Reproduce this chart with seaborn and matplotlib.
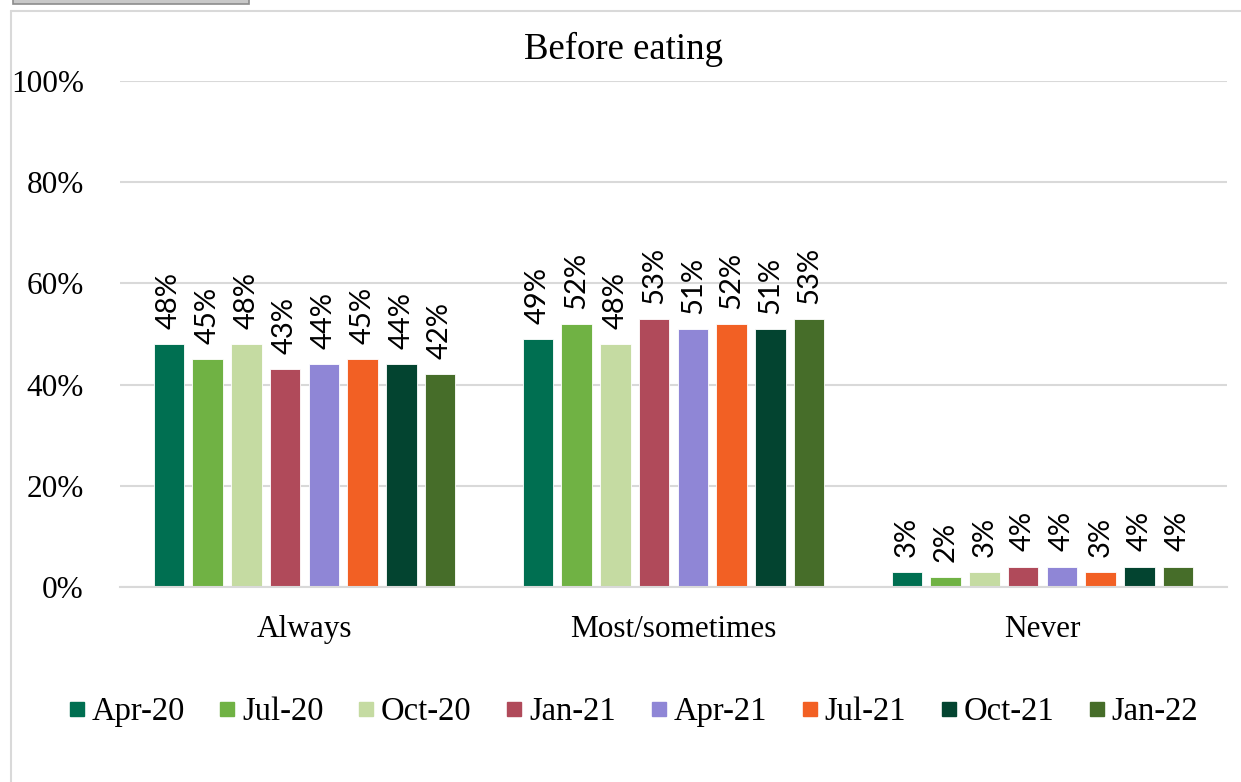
import matplotlib
matplotlib.use("Agg")
import matplotlib.pyplot as plt
import seaborn as sns
import pandas as pd
from matplotlib.lines import Line2D
from matplotlib.patches import Rectangle

categories = ["Always", "Most/sometimes", "Never"]
waves = ["Apr-20", "Jul-20", "Oct-20", "Jan-21", "Apr-21", "Jul-21", "Oct-21", "Jan-22"]
always = [48, 45, 48, 43, 44, 45, 44, 42]
most_sometimes = [49, 52, 48, 53, 51, 52, 51, 53]
never = [3, 2, 3, 4, 4, 3, 4, 4]
colors = ["#006F51", "#70B244", "#C5DBA2", "#B04A5A", "#8F86D6", "#F26024", "#034430", "#466D29"]
yticks = [0, 20, 40, 60, 80, 100]
title = "Before eating"

rows = []
for cat, vals in zip(categories, [always, most_sometimes, never]):
    for w, v in zip(waves, vals):
        rows.append({"category": cat, "wave": w, "value": v})
df = pd.DataFrame(rows)

sns.set_theme(style="white")
serif = ["Liberation Serif", "DejaVu Serif"]
plt.rcParams["font.family"] = serif
plt.rcParams["text.color"] = "black"
plt.rcParams["xtick.color"] = "black"
plt.rcParams["ytick.color"] = "black"

fig = plt.figure(figsize=(12.41, 7.82), dpi=100)
ax = fig.add_axes([120/1241, 1-587/782, (1227-120)/1241, (587-81)/782])

palette = dict(zip(waves, colors))
sns.barplot(data=df, x="category", y="value", hue="wave", order=categories,
            hue_order=waves, palette=palette, width=0.84, gap=0.21,
            saturation=1, ax=ax, legend=False, edgecolor="white", linewidth=0.6)

ax.set_ylim(0, 100)
ax.set_yticks(yticks)
ax.set_yticklabels([f"{t}%" for t in yticks], fontsize=22.5, family=serif, color="black")
ax.tick_params(axis="y", length=0, pad=26)
ax.tick_params(axis="x", length=0, pad=20, labelsize=22.5, labelcolor="black")
for lab in ax.get_xticklabels():
    lab.set_family(serif)
ax.set_xlabel("")
ax.set_ylabel("")
ax.grid(axis="y", color="#d9d9d9", linewidth=1.5)
ax.set_axisbelow(True)
for s in ["top", "right", "left"]:
    ax.spines[s].set_visible(False)
ax.spines["bottom"].set_color("#d9d9d9")
ax.spines["bottom"].set_linewidth(1.5)

for cont in ax.containers:
    for bar in cont:
        h = bar.get_height()
        ax.annotate(f"{h:.0f}%", (bar.get_x() + bar.get_width()/2, h),
                    xytext=(0, 11), textcoords="offset points",
                    rotation=90, ha="center", va="bottom",
                    fontsize=21, family=["Lato", "DejaVu Sans"], color="#000000")

fig.text(623/1241, 1-49/782, title, ha="center", va="center", fontsize=26.5,
         family=serif, color="black")

handles = [Line2D([0], [0], marker="s", linestyle="none", markersize=10,
                  markerfacecolor=c, markeredgecolor=c) for c in colors]
fig.legend(handles, waves, loc="center", bbox_to_anchor=(630/1241, 1-712/782),
           ncol=8, frameon=False, prop={"family": serif, "size": 23.5},
           handletextpad=0.0, columnspacing=0.86, handlelength=0.9)

# outer frame
fig.add_artist(Line2D([11/1241, 11/1241], [0, 1-11/782], transform=fig.transFigure,
                      color="#d9d9d9", linewidth=1.5))
fig.add_artist(Line2D([11/1241, 1], [1-11/782, 1-11/782], transform=fig.transFigure,
                      color="#d9d9d9", linewidth=1.5))
fig.add_artist(Rectangle((13/1241, 1-4/782), (249-13)/1241, 5/782, transform=fig.transFigure,
                         facecolor="#c8c8c8", edgecolor="#8c8c8c", linewidth=1.2))

fig.savefig("out.png", dpi=100)
